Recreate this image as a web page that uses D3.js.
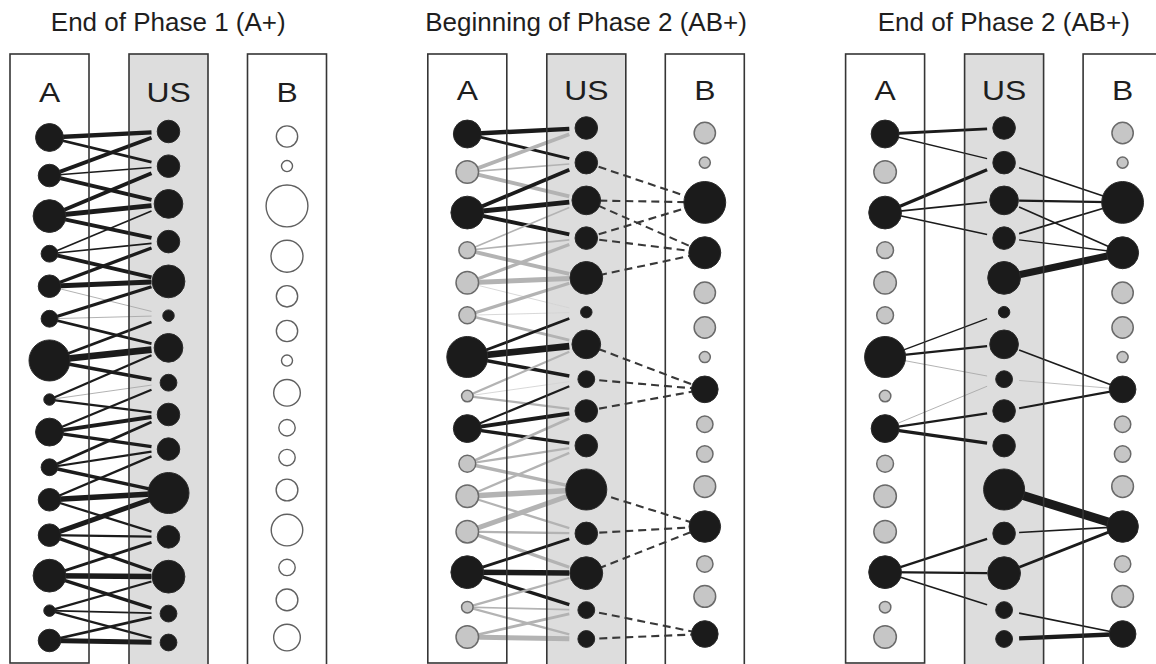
<!DOCTYPE html>
<html>
<head>
<meta charset="utf-8">
<script src="https://cdn.jsdelivr.net/npm/d3@7"></script>
<style>
  html, body { margin: 0; padding: 0; background: #fff; }
  svg { display: block; }
</style>
</head>
<body>
<svg id="chart" width="1156" height="664"></svg>
<script>
// ---- data -------------------------------------------------------------
const panelTitles = ["End of Phase 1 (A+)", "Beginning of Phase 2 (AB+)", "End of Phase 2 (AB+)"];
const columnLabels = ["A", "US", "B"];

// node activation (0–1), top to bottom
const aActivation  = [0.68, 0.55, 0.80, 0.41, 0.55, 0.41, 1.00, 0.28, 0.68, 0.41, 0.55, 0.55, 0.80, 0.28, 0.55];
const usActivation = [0.55, 0.55, 0.70, 0.55, 0.80, 0.28, 0.70, 0.41, 0.55, 0.55, 1.00, 0.55, 0.80, 0.41, 0.41];
const bActivation  = [0.52, 0.27, 1.02, 0.78, 0.52, 0.52, 0.27, 0.65, 0.40, 0.40, 0.53, 0.77, 0.40, 0.53, 0.65];

// units stimulated during phase 2
const aActiveIdx = [0, 2, 6, 8, 12];
const bActiveIdx = [2, 3, 7, 11, 14];

// A -> US strengths after phase 1: [a, us, strength]
const phase1AUS = [
  [0, 0, 0.57], [0, 1, 0.36],
  [1, 0, 0.50], [1, 1, 0.21], [1, 2, 0.50],
  [2, 1, 0.50], [2, 2, 0.64], [2, 3, 0.50],
  [3, 2, 0.21], [3, 3, 0.21], [3, 4, 0.50],
  [4, 3, 0.43], [4, 4, 0.64], [4, 5, 0.11],
  [5, 4, 0.43], [5, 5, 0.11], [5, 6, 0.36],
  [6, 5, 0.36], [6, 6, 0.86], [6, 7, 0.43],
  [7, 6, 0.29], [7, 7, 0.11], [7, 8, 0.29],
  [8, 7, 0.29], [8, 8, 0.50], [8, 9, 0.43],
  [9, 8, 0.36], [9, 9, 0.29], [9, 10, 0.43],
  [10, 9, 0.29], [10, 10, 0.71], [10, 11, 0.29],
  [11, 10, 0.64], [11, 11, 0.29], [11, 12, 0.43],
  [12, 11, 0.36], [12, 12, 0.71], [12, 13, 0.43],
  [13, 12, 0.29], [13, 13, 0.21], [13, 14, 0.29],
  [14, 13, 0.36], [14, 14, 0.64]
];

// A -> US strengths at the end of phase 2
const phase2AUS = [
  [0, 0, 0.36], [0, 1, 0.17],
  [2, 1, 0.43], [2, 2, 0.21], [2, 3, 0.21],
  [6, 5, 0.17], [6, 6, 0.29], [6, 7, 0.11],
  [8, 7, 0.11], [8, 8, 0.29], [8, 9, 0.43],
  [12, 11, 0.29], [12, 12, 0.29], [12, 13, 0.21]
];

// US -> B strengths at the end of phase 2: [us, b, strength]
const phase2USB = [
  [1, 2, 0.21], [2, 2, 0.29], [2, 3, 0.21], [3, 2, 0.21], [3, 3, 0.17], [4, 3, 0.90],
  [6, 7, 0.21], [7, 7, 0.11], [8, 7, 0.29],
  [10, 11, 1.15], [11, 11, 0.21], [12, 11, 0.36],
  [13, 14, 0.21], [14, 14, 0.57]
];

// ---- layout -----------------------------------------------------------
const svg = d3.select("#chart");
const FONT = "'Liberation Sans', Arial, Helvetica, sans-serif";

const panelX = d3.scaleLinear().domain([0, 2]).range([10, 845.6]);
const colOffset = [0, 119, 237.5];
const boxW = 79;
const boxTop = 54;

const rScale = d3.scaleLinear().domain([0, 1]).range([0, 20.5]);
const wScale = d3.scaleLinear().domain([0, 1]).range([0, 7.8]);

// vertical extent (first / last node centre) of each column
const colSpan = [[134, 637], [128, 639], [133, 634]];
const panelDy = [3.5, 0, 0];

// stack circles top to bottom with equal gaps between them
function stackY(values, y0, y1) {
  const r = values.map(rScale);
  let pairs = 0;
  for (let i = 1; i < r.length; i++) pairs += r[i - 1] + r[i];
  const gap = (y1 - y0 - pairs) / (r.length - 1);
  const ys = [y0];
  for (let i = 1; i < r.length; i++) ys.push(ys[i - 1] + r[i - 1] + r[i] + gap);
  return ys;
}
const colValues = [aActivation, usActivation, bActivation];
const colY = colValues.map((v, c) => stackY(v, colSpan[c][0], colSpan[c][1]));

const BLACK = "#1b1b1b";
const GREY_FILL = "#c6c6c6";
const GREY_STROKE = "#6a6a6a";

panelTitles.forEach((title, p) => {
  const x0 = panelX(p);
  const dy = panelDy[p];
  const g = svg.append("g");
  const cx = c => x0 + colOffset[c] + boxW / 2;
  const ny = (c, i) => colY[c][i] + dy;

  // title
  g.append("text")
    .attr("x", x0 + (colOffset[2] + boxW) / 2)
    .attr("y", 31)
    .attr("text-anchor", "middle")
    .attr("font-family", FONT)
    .attr("font-size", 26)
    .attr("fill", "#1e1e1e")
    .text(title);

  // box fills (US column shaded)
  columnLabels.forEach((lab, c) => {
    g.append("rect")
      .attr("x", x0 + colOffset[c]).attr("y", boxTop)
      .attr("width", boxW).attr("height", c === 0 ? 609 : 640)
      .attr("fill", c === 1 ? "#dddddd" : "#ffffff");
  });

  const aActive = i => p === 0 || aActiveIdx.includes(i);
  const bActive = i => p > 0 && bActiveIdx.includes(i);

  // A -> US links, ending just short of the US unit
  const aus = p === 2 ? phase2AUS : phase1AUS;
  const edgeG = g.append("g").attr("stroke-linecap", "butt").attr("fill", "none");
  aus.forEach(([a, u, s]) => {
    const x1 = cx(0), y1 = ny(0, a), tx = cx(1), ty = ny(1, u);
    const t = (tx - 17 - x1) / (tx - x1);
    const on = aActive(a);
    const weak = s < 0.15;
    const col = on ? (weak ? "#a9a9a9" : BLACK) : (weak ? "#d4d4d4" : "#b3b3b3");
    edgeG.append("line")
      .attr("x1", x1).attr("y1", y1)
      .attr("x2", x1 + t * (tx - x1)).attr("y2", y1 + t * (ty - y1))
      .attr("stroke", col)
      .attr("stroke-width", Math.max(wScale(s), 0.9));
  });

  // US -> B links
  if (p === 1) {
    phase2USB.forEach(([u, b]) => {
      edgeG.append("line")
        .attr("x1", cx(1)).attr("y1", ny(1, u))
        .attr("x2", cx(2)).attr("y2", ny(2, b))
        .attr("stroke", "#383838")
        .attr("stroke-width", 2.1)
        .attr("stroke-dasharray", "8,5");
    });
  } else if (p === 2) {
    phase2USB.forEach(([u, b, s]) => {
      const x1 = cx(1), y1 = ny(1, u), x2 = cx(2), y2 = ny(2, b);
      const t = 15 / (x2 - x1);
      const weak = s < 0.15;
      edgeG.append("line")
        .attr("x1", x1 + t * (x2 - x1)).attr("y1", y1 + t * (y2 - y1))
        .attr("x2", x2).attr("y2", y2)
        .attr("stroke", weak ? "#b9b9b9" : BLACK)
        .attr("stroke-width", Math.max(wScale(s), 0.9));
    });
  }

  // box outlines and column labels
  columnLabels.forEach((lab, c) => {
    g.append("rect")
      .attr("x", x0 + colOffset[c]).attr("y", boxTop)
      .attr("width", boxW).attr("height", c === 0 ? 609 : 640)
      .attr("fill", "none")
      .attr("stroke", "#353535")
      .attr("stroke-width", 1.6);
    g.append("text")
      .attr("transform", `translate(${cx(c)},${100 + dy * 0.7}) scale(1.18,1)`)
      .attr("text-anchor", "middle")
      .attr("font-family", FONT)
      .attr("font-size", 27)
      .attr("fill", "#1e1e1e")
      .text(lab);
  });

  // units
  colValues.forEach((vals, c) => {
    g.append("g").selectAll("circle")
      .data(vals)
      .join("circle")
      .attr("cx", cx(c))
      .attr("cy", (v, i) => ny(c, i))
      .attr("r", v => rScale(v))
      .each(function (v, i) {
        const el = d3.select(this);
        let state;
        if (c === 0) state = aActive(i) ? "on" : "off";
        else if (c === 1) state = "on";
        else state = p === 0 ? "empty" : (bActive(i) ? "on" : "off");
        if (state === "on") el.attr("fill", BLACK).attr("stroke", "#2a2a2a").attr("stroke-width", 1);
        else if (state === "off") el.attr("fill", GREY_FILL).attr("stroke", GREY_STROKE).attr("stroke-width", 1.5);
        else el.attr("fill", "#ffffff").attr("stroke", "#606060").attr("stroke-width", 1.4);
      });
  });
});
</script>
</body>
</html>
